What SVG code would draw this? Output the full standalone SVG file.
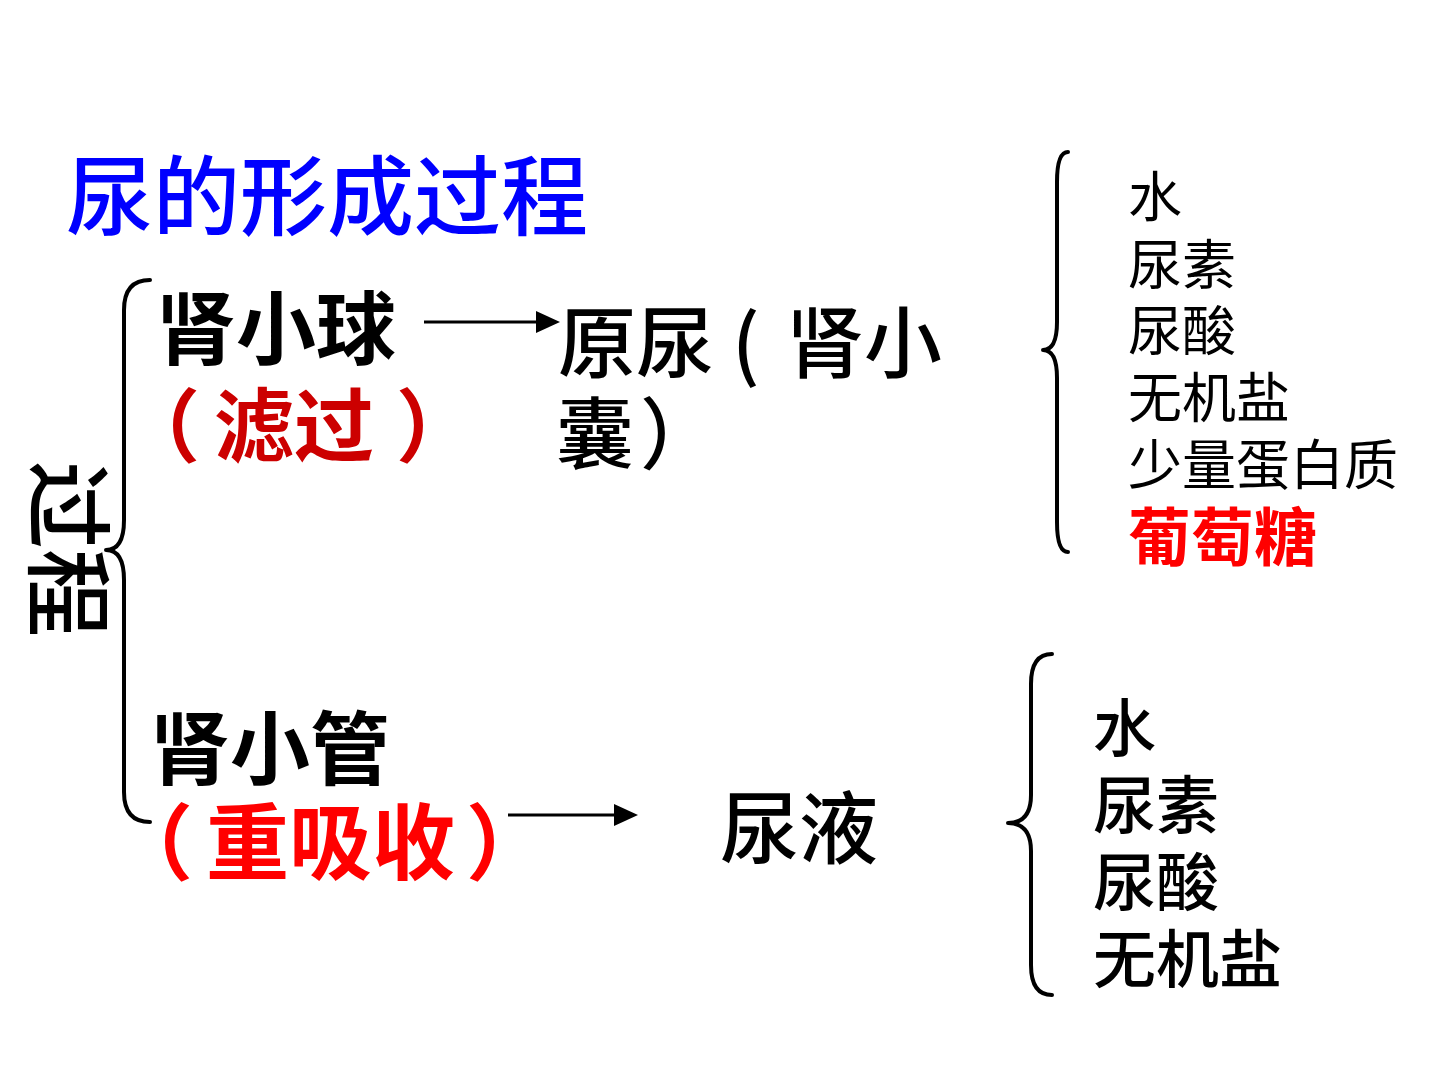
<svg xmlns="http://www.w3.org/2000/svg" width="1440" height="1080" viewBox="0 0 1440 1080">
<defs>
<style>
.cjk{font-family:"Noto Sans CJK SC","Noto Sans",sans-serif;}
.b{font-weight:700;}
.m{font-weight:500;}
.brace{fill:none;stroke:#000;stroke-width:4;stroke-linecap:round;stroke-linejoin:round;}
.arrow{stroke:#000;stroke-width:3;fill:none;}
</style>
</defs>
<rect width="1440" height="1080" fill="#fff"/>
<g id="title"><text class="cjk m" x="66" y="229" font-size="87" fill="#0000ff">尿的形成过程</text></g>
<g id="process-label"><text class="cjk m" font-size="88" fill="#000" transform="translate(36,461) rotate(90)">过程</text></g>
<g id="glomerulus">
<text class="cjk b" font-size="80" fill="#000"><tspan x="156" y="358">肾小球</tspan><tspan x="120" y="455" fill="#cc0000">（</tspan><tspan x="214" y="455" fill="#cc0000">滤过</tspan><tspan x="396" y="455" fill="#cc0000">）</tspan></text>
</g>
<g id="tubule">
<text class="cjk b" fill="#000"><tspan x="150" y="778" font-size="80">肾小管</tspan><tspan x="110" y="873" font-size="83" fill="#ff0000">（</tspan><tspan x="206" y="873" font-size="83" fill="#ff0000">重吸收</tspan><tspan x="466" y="873" font-size="83" fill="#ff0000">）</tspan></text>
</g>
<g id="primary-urine">
<text class="cjk m" font-size="78" fill="#000"><tspan x="558" y="372">原尿</tspan><tspan x="732" y="372">(</tspan><tspan x="786" y="372">肾小</tspan><tspan x="556" y="463">囊</tspan><tspan x="640" y="463">）</tspan></text>
</g>
<g id="urine"><text class="cjk m" x="720" y="858" font-size="79" fill="#000">尿液</text></g>
<g id="list1">
<text class="cjk" font-size="54" fill="#000"><tspan x="1128" y="217">水</tspan><tspan x="1128" y="285">尿素</tspan><tspan x="1128" y="351">尿酸</tspan><tspan x="1128" y="418">无机盐</tspan><tspan x="1128" y="485">少量蛋白质</tspan><tspan x="1128" y="560" font-size="63" font-weight="700" fill="#ff0000">葡萄糖</tspan></text>
</g>
<g id="list2">
<text class="cjk m" font-size="63" fill="#000"><tspan x="1093" y="751">水</tspan><tspan x="1093" y="828">尿素</tspan><tspan x="1093" y="905">尿酸</tspan><tspan x="1093" y="982">无机盐</tspan></text>
</g>
<g id="connectors">
<path class="brace" d="M150,280 Q124,280 124,310 L124,520 Q124,550 106,550 Q124,550 124,580 L124,792 Q124,822 150,822"/>
<path class="brace" d="M1068,152 Q1057,152 1057,182 L1057,322 Q1057,350 1043,350 Q1057,350 1057,378 L1057,522 Q1057,552 1068,552"/>
<path class="brace" d="M1052,654 Q1031,654 1031,684 L1031,795 Q1031,823 1008,823 Q1031,823 1031,851 L1031,965 Q1031,995 1052,995"/>
<line class="arrow" x1="424" y1="322" x2="538" y2="322"/>
<path d="M536,311 L560,322 L536,333 Z" fill="#000"/>
<line class="arrow" x1="508" y1="815" x2="616" y2="815"/>
<path d="M614,804 L638,815 L614,826 Z" fill="#000"/>
</g>
</svg>
